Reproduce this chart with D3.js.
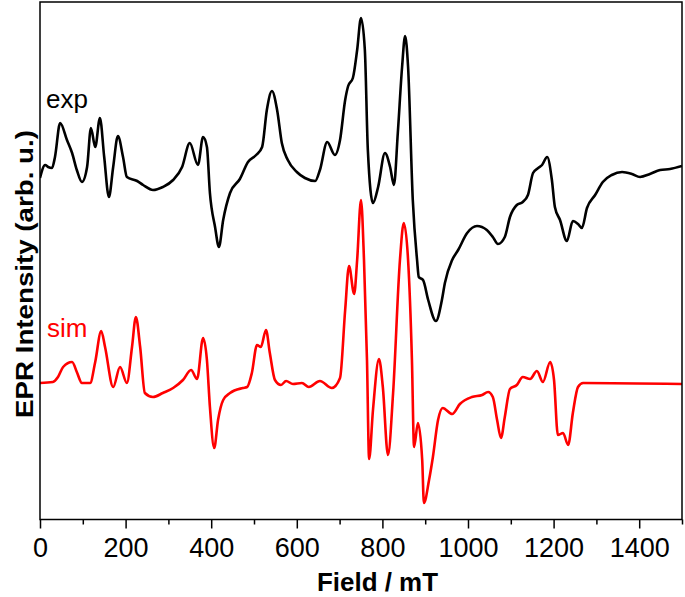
<!DOCTYPE html>
<html>
<head>
<meta charset="utf-8">
<script src="https://cdn.jsdelivr.net/npm/d3@7"></script>
<style>
  html, body { margin: 0; padding: 0; background: #fff; }
  svg { display: block; }
  text { font-family: "Liberation Sans", Arial, sans-serif; }
</style>
</head>
<body>
<svg id="chart" width="685" height="597"></svg>
<script>
// ---- Data (Field in mT, intensity in arbitrary units) ----
const expField = [0,12,19,28,35,47,63,75,86,98,110,119,129,140,150,161,171,182,194,203,227,241,264,287,311,332,350,369,381,390,397,409,418,428,444,467,486,505,519,530,542,554,565,579,600,619,643,654,671,689,701,713,720,731,741,750,759,766,778,790,806,818,827,836,846,853,860,871,881,885,895,907,925,939,946,963,977,998,1021,1044,1058,1070,1086,1098,1114,1128,1140,1152,1164,1173,1185,1196,1203,1215,1231,1245,1257,1266,1278,1297,1315,1336,1360,1383,1402,1425,1449,1472,1500];
const expIntensity = [339,352,350,349,360,394,377,364,347,335,350,389,370,399,360,320,350,381,360,340,336,332,327,330,337,350,374,352,380,370,324,290,270,297,324,338,355,362,370,407,426,407,374,357,345,339,336,347,375,362,377,417,431,439,467,499,467,367,314,330,364,350,332,384,450,481,450,317,257,240,237,217,196,217,234,257,267,284,291,287,280,273,280,300,312,315,322,344,349,352,360,337,310,297,276,296,293,289,309,322,335,342,345,343,340,343,347,348,351];

const simField = [0,30,42,54,75,86,98,117,129,143,152,171,187,203,215,224,234,245,264,287,311,334,353,367,381,390,397,407,416,428,444,474,484,495,507,516,528,537,549,563,575,591,612,628,654,682,701,713,722,734,741,750,757,764,769,778,792,801,813,825,841,850,860,869,874,883,893,897,909,918,930,941,963,981,1009,1033,1047,1058,1068,1077,1086,1098,1114,1128,1145,1161,1175,1192,1201,1210,1222,1234,1245,1257,1269,1500];
const simIntensity = [134,135,140,150,155,145,134,134,155,186,170,130,150,134,170,200,170,124,120,124,129,137,147,138,179,157,110,69,97,117,124,129,130,144,172,170,187,164,137,132,136,133,134,130,136,129,139,207,251,223,257,317,257,157,58,107,158,130,62,124,257,294,257,157,70,94,57,14,37,60,97,109,103,113,120,122,125,120,97,79,100,128,132,140,138,146,135,155,137,82,84,72,104,130,134,133];

const xTicks = [0,100,200,300,400,500,600,700,800,900,1000,1100,1200,1300,1400,1500];
const xLabels = ["0","","200","","400","","600","","800","","1000","","1200","","1400",""];

const seriesNames = ["exp", "sim"];
const seriesColors = ["#000000", "#ff0000"];

// ---- Layout ----
const L = 40, R = 682, T = 2, B = 519.5;
const svg = d3.select("#chart");

const x = d3.scaleLinear().domain([0, 1500]).range([L, R]);
const y = d3.scaleLinear().domain([-2.5, 515]).range([B, T]);

svg.append("defs").append("clipPath").attr("id", "plotclip")
  .append("rect").attr("x", L).attr("y", T).attr("width", R - L).attr("height", B - T);

const line = d3.line()
  .x(d => x(d[0]))
  .y(d => y(d[1]))
  .curve(d3.curveMonotoneX);

const expData = expField.map((f, i) => [f, expIntensity[i]]);
const simData = simField.map((f, i) => [f, simIntensity[i]]);

const g = svg.append("g").attr("clip-path", "url(#plotclip)");
g.append("path").datum(expData)
  .attr("d", line).attr("fill", "none")
  .attr("stroke", seriesColors[0]).attr("stroke-width", 2.6)
  .attr("stroke-linejoin", "round");
g.append("path").datum(simData)
  .attr("d", line).attr("fill", "none")
  .attr("stroke", seriesColors[1]).attr("stroke-width", 2.6)
  .attr("stroke-linejoin", "round");

// ---- Axis ----
const xAxis = d3.axisBottom(x)
  .tickValues(xTicks)
  .tickFormat((d, i) => xLabels[i])
  .tickSize(9)
  .tickPadding(9);

const ax = svg.append("g").attr("transform", `translate(0,${B})`).call(xAxis);
ax.select(".domain").remove();
ax.selectAll(".tick line").attr("stroke", "#000").attr("stroke-width", 1.5)
  .attr("y2", (d, i) => xLabels[i] === "" ? 5 : 9);
ax.selectAll(".tick text")
  .attr("font-family", "'Liberation Sans', Arial, sans-serif")
  .attr("font-size", 27)
  .attr("fill", "#000");

// frame
svg.append("rect")
  .attr("x", L).attr("y", T).attr("width", R - L).attr("height", B - T)
  .attr("fill", "none").attr("stroke", "#000").attr("stroke-width", 1.5);

// ---- Texts ----
svg.append("text")
  .attr("x", 317).attr("y", 591)
  .attr("font-size", 25).attr("font-weight", "bold")
  .attr("textLength", 121).attr("lengthAdjust", "spacingAndGlyphs")
  .text("Field / mT");

svg.append("text")
  .attr("transform", "translate(33,274) rotate(-90)")
  .attr("text-anchor", "middle")
  .attr("font-size", 24).attr("font-weight", "bold")
  .attr("textLength", 288).attr("lengthAdjust", "spacingAndGlyphs")
  .text("EPR Intensity (arb. u.)");

svg.append("text")
  .attr("x", 46).attr("y", 108)
  .attr("font-size", 26).attr("fill", seriesColors[0])
  .text(seriesNames[0]);

svg.append("text")
  .attr("x", 47).attr("y", 337)
  .attr("font-size", 26).attr("fill", seriesColors[1])
  .text(seriesNames[1]);
</script>
</body>
</html>
